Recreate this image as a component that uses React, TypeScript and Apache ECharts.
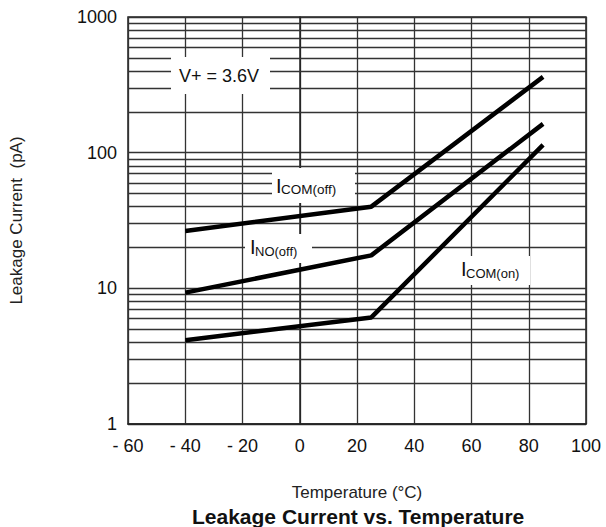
import React, { useEffect, useRef } from "react";
import * as echarts from "echarts";

// ---- data ----
const temps = [-40, 25, 85];
const iComOff = [26.5, 40, 362];
const iNoOff = [9.3, 17.5, 163];
const iComOn = [4.15, 6.1, 114];

const xTicks = [-60, -40, -20, 0, 20, 40, 60, 80, 100];
const yMajor = [1, 10, 100, 1000];
const yMinor = [2, 3, 4, 5, 6, 7, 8, 9, 20, 30, 40, 50, 60, 70, 80, 90, 200, 300, 400, 500, 600, 700, 800, 900];

const FONT = "Liberation Sans, Arial, Helvetica, sans-serif";
const GRID_C = "#333";

function label(
  box: [number, number, number, number],
  main: string,
  sub: string,
  mainPos: [number, number],
  subPos: [number, number],
  mainSize: number,
  subSize: number
) {
  const els: any[] = [
    {
      type: "rect",
      z: 100,
      silent: true,
      shape: { x: box[0], y: box[1], width: box[2], height: box[3] },
      style: { fill: "#ffffff", stroke: null },
    },
    {
      type: "text",
      z: 101,
      x: mainPos[0],
      y: mainPos[1],
      style: {
        text: main,
        fontSize: mainSize,
        fontFamily: FONT,
        fill: "#111",
        align: "left",
        verticalAlign: "middle",
      },
    },
  ];
  if (sub) {
    els.push({
      type: "text",
      z: 101,
      x: subPos[0],
      y: subPos[1],
      style: {
        text: sub,
        fontSize: subSize,
        fontFamily: FONT,
        fill: "#111",
        align: "left",
        verticalAlign: "middle",
      },
    });
  }
  return els;
}

export default function App() {
  const ref = useRef<HTMLDivElement>(null);
  useEffect(() => {
    if (!ref.current) return;
    const chart = echarts.init(ref.current, null, { renderer: "svg" });
    const pair = (ys: number[]) => temps.map((t, i) => [t, ys[i]]);
    const lineStyle = { color: "#000", width: 4.5 };
    chart.setOption({
      animation: false,
      backgroundColor: "#fff",
      title: {
        text: "Leakage Current vs. Temperature",
        left: 192,
        top: 506,
        padding: 0,
        textStyle: { fontFamily: FONT, fontSize: 21, fontWeight: "bold", color: "#111" },
      },
      grid: {
        left: 126,
        right: 20,
        top: 17,
        bottom: 103,
        show: true,
        borderColor: "#222",
        borderWidth: 1.5,
        backgroundColor: "transparent",
      },
      xAxis: {
        type: "value",
        min: xTicks[0],
        max: xTicks[xTicks.length - 1],
        interval: 20,
        name: "Temperature (°C)",
        nameLocation: "middle",
        nameGap: 60,
        nameTextStyle: { fontFamily: FONT, fontSize: 17, color: "#222" },
        axisLine: { show: true, lineStyle: { color: "#222", width: 1.5 } },
        axisTick: { show: false },
        axisLabel: {
          fontFamily: FONT,
          fontSize: 18,
          color: "#111",
          margin: 13,
          showMaxLabel: true,
          showMinLabel: true,
          formatter: (v: number) => (v < 0 ? "- " + Math.abs(v) : String(v)),
        },
        splitLine: { show: true, lineStyle: { color: GRID_C, width: 1.3 } },
      },
      yAxis: {
        type: "log",
        logBase: 10,
        min: yMajor[0],
        max: yMajor[yMajor.length - 1],
        name: "Leakage Current  (pA)",
        nameLocation: "middle",
        nameRotate: 90,
        nameGap: 103,
        nameTextStyle: { fontFamily: FONT, fontSize: 17, color: "#222" },
        axisLine: { show: true, lineStyle: { color: "#222", width: 1.5 } },
        axisTick: { show: false },
        axisLabel: {
          fontFamily: FONT,
          fontSize: 18,
          color: "#111",
          margin: 11,
          formatter: (v: number) => String(Math.round(v)),
        },
        splitLine: { show: true, lineStyle: { color: GRID_C, width: 1.3 } },
      },
      series: [
        {
          type: "line",
          data: [],
          z: 1,
          silent: true,
          markLine: {
            silent: true,
            symbol: ["none", "none"],
            label: { show: false },
            lineStyle: { color: GRID_C, width: 1.3, type: "solid" },
            data: yMinor.map((v) => ({ yAxis: v })),
          },
        },
        { name: "ICOM(off)", type: "line", data: pair(iComOff), symbol: "none", lineStyle, z: 5 },
        { name: "INO(off)", type: "line", data: pair(iNoOff), symbol: "none", lineStyle, z: 5 },
        { name: "ICOM(on)", type: "line", data: pair(iComOn), symbol: "none", lineStyle, z: 5 },
      ],
      graphic: [
        ...label([171, 57, 99, 37], "V+ = 3.6V", "", [179, 75.5], [0, 0], 18, 0),
        ...label([272, 168, 83, 35], "I", "COM(off)", [276, 186], [281, 189.5], 20, 13.5),
        ...label([245, 234, 67, 29], "I", "NO(off)", [250, 247], [255, 251], 20, 13),
        ...label([458, 256, 72, 29], "I", "COM(on)", [461, 269], [466, 273], 20, 13),
      ],
    });
    return () => chart.dispose();
  }, []);
  return (
    <div
      ref={ref}
      style={{ position: "fixed", left: 0, top: 0, width: 606, height: 527 }}
    />
  );
}
